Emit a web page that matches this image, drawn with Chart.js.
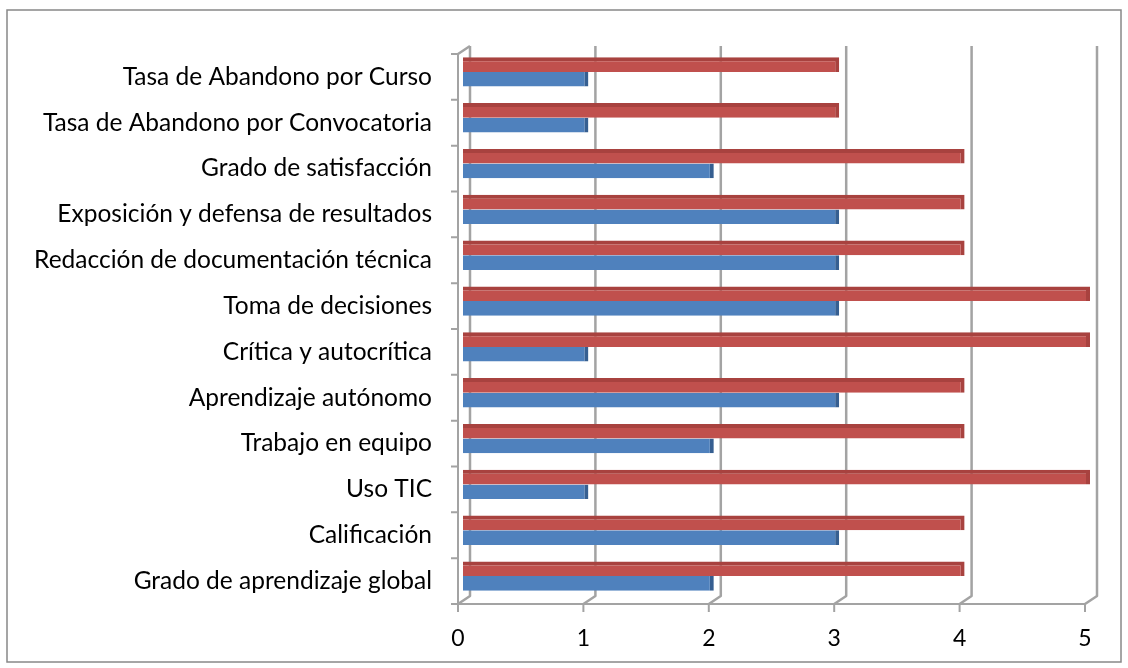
<!DOCTYPE html>
<html><head><meta charset="utf-8">
<script src="https://cdn.jsdelivr.net/npm/chart.js@4/dist/chart.umd.min.js"></script>
<style>html,body{margin:0;padding:0;background:#fff}#wrap{width:1128px;height:668px;position:relative}</style>
</head><body><div id="wrap"><canvas id="c"></canvas></div>
<script>
const categories = [
  "Tasa de Abandono por Curso",
  "Tasa de Abandono por Convocatoria",
  "Grado de satisfacción",
  "Exposición y defensa de resultados",
  "Redacción de documentación técnica",
  "Toma de decisiones",
  "Crítica y autocrítica",
  "Aprendizaje autónomo",
  "Trabajo en equipo",
  "Uso TIC",
  "Calificación",
  "Grado de aprendizaje global"
];
const seriesRed  = [3, 3, 4, 4, 4, 5, 5, 4, 4, 5, 4, 4];
const seriesBlue = [1, 1, 2, 3, 3, 3, 1, 3, 2, 1, 3, 2];
const xTicks = [0, 1, 2, 3, 4, 5];

const DX = 12, DY = -8;
const frame = {
  id: 'frame',
  beforeDraw(chart) {
    const ctx = chart.ctx;
    ctx.save();
    ctx.fillStyle = '#fff';
    ctx.fillRect(0, 0, chart.width, chart.height);
    ctx.strokeStyle = '#888';
    ctx.lineWidth = 1.5;
    ctx.strokeRect(7, 10, 1114, 652);
    ctx.restore();
  },
  beforeDatasetsDraw(chart) {
    const ctx = chart.ctx, xs = chart.scales.x, ys = chart.scales.y;
    const top = ys.top, bot = ys.bottom, left = xs.left, right = xs.right;
    ctx.save();
    ctx.strokeStyle = '#a3a3a3';
    ctx.lineWidth = 2.5;
    ctx.lineJoin = 'round';
    xTicks.forEach(v => {
      const x = xs.getPixelForValue(v);
      ctx.beginPath();
      ctx.moveTo(x, bot);
      ctx.lineTo(x + DX, bot + DY);
      ctx.lineTo(x + DX, top + DY);
      ctx.stroke();
    });
    ctx.beginPath();
    ctx.moveTo(left, top);
    ctx.lineTo(left + DX, top + DY);
    ctx.stroke();
    ctx.lineWidth = 2;
    ctx.beginPath();
    ctx.moveTo(left, top);
    ctx.lineTo(left, bot);
    ctx.lineTo(right, bot);
    ctx.stroke();
    const n = categories.length;
    ctx.beginPath();
    for (let i = 0; i <= n; i++) {
      const y = top + i * (bot - top) / n;
      ctx.moveTo(left - 7, y);
      ctx.lineTo(left, y);
    }
    xTicks.forEach(v => {
      const x = xs.getPixelForValue(v);
      ctx.moveTo(x, bot);
      ctx.lineTo(x, bot + 8);
    });
    ctx.stroke();
    ctx.restore();
    ctx.save();
    ctx.translate(5, -5);
  },
  afterDatasetsDraw(chart) {
    chart.ctx.restore();
  }
};

new Chart(document.getElementById('c'), {
  type: 'bar',
  data: {
    labels: categories,
    datasets: [
      { data: seriesRed, backgroundColor: '#c0504d', borderColor: '#a8423f',
        borderWidth: {top: 4, right: 4, bottom: 0, left: 0}, borderSkipped: false,
        categoryPercentage: 0.64, barPercentage: 1.0 },
      { data: seriesBlue, backgroundColor: '#4f81bd', borderColor: '#365f91',
        borderWidth: {top: 0, right: 4, bottom: 0, left: 0}, borderSkipped: false,
        categoryPercentage: 0.64, barPercentage: 1.0 }
    ]
  },
  options: {
    indexAxis: 'y',
    responsive: true,
    maintainAspectRatio: false,
    animation: false,
    layout: { padding: { left: 0, top: 54, right: 43, bottom: 0 } },
    plugins: { legend: { display: false }, tooltip: { enabled: false } },
    scales: {
      x: {
        min: 0, max: 5,
        afterBuildTicks(s) { s.ticks = xTicks.map(v => ({ value: v })); },
        afterFit(s) { s.height = 64; },
        grid: { display: false, drawTicks: false },
        border: { display: false },
        ticks: { padding: 21, color: '#000', font: { family: 'Lato', size: 23 } }
      },
      y: {
        afterFit(s) { s.width = 458; },
        grid: { display: false, drawTicks: false, offset: true },
        border: { display: false },
        ticks: { padding: 26, color: '#000', font: { family: 'Lato', size: 24.5 } }
      }
    }
  },
  plugins: [frame]
});
</script>
</body></html>
